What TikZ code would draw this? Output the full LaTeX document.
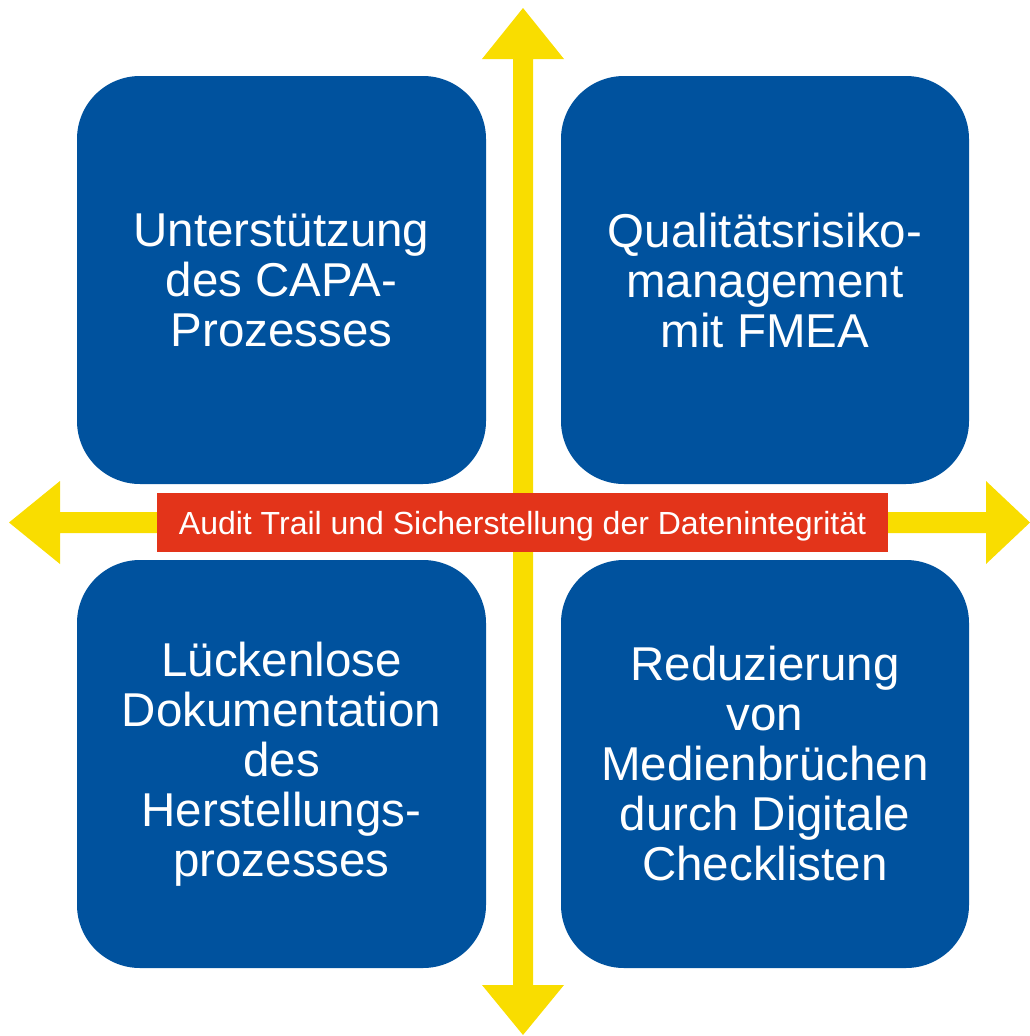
\documentclass[tikz,border=0pt]{standalone}
\usepackage{fontspec}
\setmainfont{Liberation Sans}
\definecolor{boxblue}{RGB}{0,82,158}
\definecolor{arrowyellow}{RGB}{249,221,0}
\definecolor{labelred}{RGB}{227,52,26}
\begin{document}
\begin{tikzpicture}[x=1pt,y=-1pt,
  quad/.style={fill=boxblue, rounded corners=63pt, minimum width=409pt, minimum height=408pt,
    text=white, align=center, inner sep=0pt, font=\fontsize{47.5}{50}\selectfont},
  axis/.style={fill=arrowyellow},
  lbl/.style={fill=labelred, text=white, minimum width=731pt, minimum height=59pt, inner sep=0pt,
    text height=23pt, text depth=0pt, font=\fontsize{32}{36}\selectfont}]
\useasboundingbox (0,0) rectangle (1030,1036);
% axes
\fill[axis] (523,8) -- (564,59) -- (533,59) -- (533,985) -- (564,985) -- (523,1035) -- (482,985) -- (513,985) -- (513,59) -- (482,59) -- cycle;
\fill[axis] (9,522.5) -- (60,481) -- (60,512) -- (986,512) -- (986,481) -- (1030,522.5) -- (986,564) -- (986,533) -- (60,533) -- (60,564) -- cycle;
% quadrants
\node[quad] (tl) at (281.5,280) {Unterstützung\\des CAPA-\\Prozesses};
\node[quad, minimum width=408pt] (tr) at (765,280) {Qualitätsrisiko-\\management\\mit FMEA};
\node[quad] (bl) at (281.5,764) {Lückenlose\\Dokumentation\\des\\Herstellungs-\\prozesses};
\node[quad, minimum width=408pt] (br) at (765,764) {Reduzierung\\von\\Medienbrüchen\\durch Digitale\\Checklisten};
% label
\node[lbl] (audit) at (522.5,522.5) {Audit Trail und Sicherstellung der Datenintegrität};
\end{tikzpicture}
\end{document}
